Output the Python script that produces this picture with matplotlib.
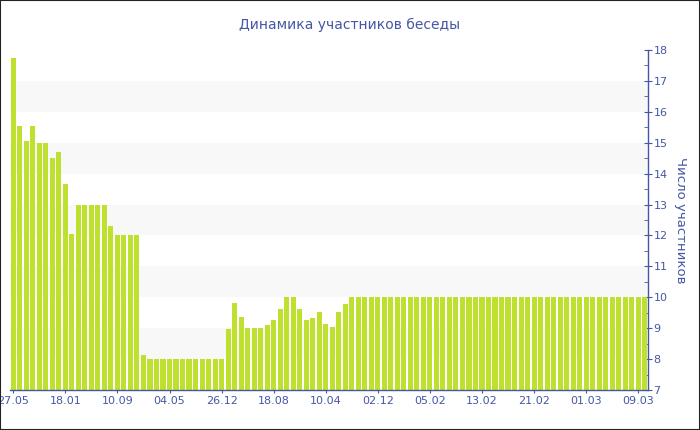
#!/usr/bin/env python3
"""Динамика участников беседы: bar chart with the value axis on the right."""
import matplotlib
matplotlib.use("Agg")
import matplotlib.pyplot as plt
from matplotlib.patches import Rectangle
from matplotlib.ticker import MultipleLocator

TITLE = "Динамика участников беседы"
YLABEL = "Число участников"

members = [
    17.75, 15.55, 15.07, 15.55, 15.0, 15.0, 14.5, 14.7, 13.67, 12.05,
    13.0, 13.0, 13.0, 13.0, 13.0, 12.3, 12.0, 12.0, 12.0, 12.0,
    8.13, 8.0, 8.0, 8.0, 8.0, 8.0, 8.0, 8.0, 8.0, 8.0,
    8.0, 8.0, 8.0, 8.97, 9.83, 9.35, 9.0, 9.0, 9.0, 9.1,
    9.27, 9.62, 10.0, 10.0, 9.62, 9.27, 9.32, 9.53, 9.14, 9.03,
    9.52, 9.77,
] + [10.0] * 46

tick_idx = [0, 8, 16, 24, 32, 40, 48, 56, 64, 72, 80, 88, 96]
tick_labels = ["27.05", "18.01", "10.09", "04.05", "26.12", "18.08", "10.04",
               "02.12", "05.02", "13.02", "21.02", "01.03", "09.03"]

TEXT = "#4557a3"
BAR = "#bde12e"


def main():
    fig = plt.figure(figsize=(7, 4.3), dpi=100)
    ax = fig.add_axes([10 / 700, 40 / 430, 638 / 700, 340 / 430])

    # light bands on every other unit
    for lo in range(8, 18, 2):
        ax.axhspan(lo, lo + 1, color="#f8f8f8", zorder=0, lw=0)

    x = list(range(len(members)))
    ax.bar(x, members, width=0.78, color=BAR, edgecolor="none", zorder=2)

    ax.set_xlim(-0.5, len(members) - 0.5)
    ax.set_ylim(7, 18)

    ax.set_xticks(tick_idx)
    ax.set_xticklabels(tick_labels)
    ax.yaxis.set_major_locator(MultipleLocator(1))
    ax.yaxis.set_minor_locator(MultipleLocator(0.5))
    ax.yaxis.tick_right()
    ax.yaxis.set_label_position("right")

    for s in ("top", "left"):
        ax.spines[s].set_visible(False)
    for s in ("bottom", "right"):
        ax.spines[s].set_color(TEXT)
        ax.spines[s].set_linewidth(1)

    ax.tick_params(axis="x", direction="inout", length=5, color=TEXT,
                   labelcolor=TEXT, labelsize=8, pad=2)
    ax.tick_params(axis="y", which="major", direction="inout", length=6,
                   color=TEXT, labelcolor=TEXT, labelsize=8, pad=1)
    ax.tick_params(axis="y", which="minor", direction="in", length=3, color=TEXT)

    ax.set_ylabel(YLABEL, rotation=270, color=TEXT, fontsize=9.5, labelpad=14)
    fig.text(0.5, 1 - 25 / 430, TITLE, ha="center", va="center",
             color=TEXT, fontsize=10)

    fig.patches.append(Rectangle((0, 0), 1, 1, transform=fig.transFigure,
                                 fill=False, edgecolor="#222222", lw=1.5))

    fig.savefig("out.png", dpi=100)
    plt.close(fig)


if __name__ == "__main__":
    main()
